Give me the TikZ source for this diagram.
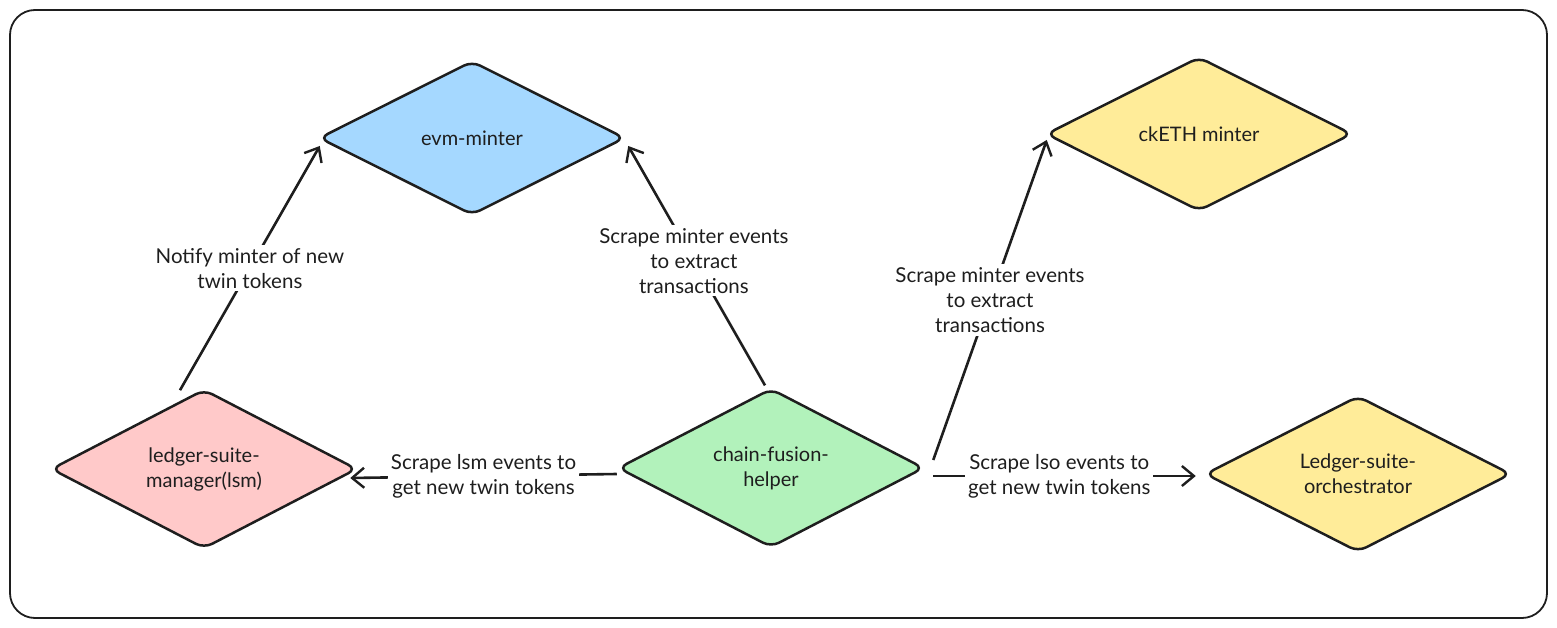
\documentclass[tikz,border=0pt]{standalone}
\usepackage{fontspec}
\setmainfont{Lato}
\usetikzlibrary{shapes.geometric,arrows.meta}
\definecolor{ink}{HTML}{1E1E1E}
\definecolor{cblue}{HTML}{A5D8FF}
\definecolor{cgreen}{HTML}{B2F2BB}
\definecolor{cpink}{HTML}{FFC9C9}
\definecolor{cyellow}{HTML}{FFEC99}
\tikzset{
  dnode/.style={diamond, draw=ink, line width=2.5pt, rounded corners=9pt,
    minimum width=306pt, minimum height=154pt, inner sep=0pt, align=center,
    font=\fontsize{20}{25}\selectfont, text=ink},
  conn/.style={draw=ink, line width=2.6pt,
    -{Straight Barb[length=12pt,width=20pt,line width=2.4pt]}},
  lbl/.style={fill=white, align=center, inner sep=3pt, text=ink,
    font=\fontsize{20.5}{25}\selectfont},
}
\begin{document}
\begin{tikzpicture}[x=1pt,y=-1pt]
\useasboundingbox (0,0) rectangle (1557,628);
\draw[ink, line width=1.8pt, rounded corners=25pt] (10,10) rectangle (1547,618);

\node[dnode, fill=cblue]   (evm)  at (472,138)  {evm-minter};
\node[dnode, fill=cyellow] (ck)   at (1199,134) {ckETH minter};
\node[dnode, fill=cpink]   (lsm)  at (204,469)  {ledger-suite-\\manager(lsm)};
\node[dnode, fill=cgreen]  (cfh)  at (771,468)  {chain-fusion-\\helper};
\node[dnode, fill=cyellow] (lso)  at (1358,474) {Ledger-suite-\\orchestrator};

\draw[conn] ([xshift=-24pt,yshift=-2pt]lsm.north) -- node[lbl, pos=0.5] {Notify minter of new\\twin tokens} ([xshift=2pt,yshift=-8pt]evm.west);
\draw[conn] ([xshift=-6pt,yshift=2pt]cfh.north) -- node[lbl, pos=0.52] {Scrape minter events\\to extract\\transactions} ([xshift=2pt,yshift=-8pt]evm.east);
\draw[conn] ([xshift=8pt,yshift=8pt]cfh.east) -- node[lbl, pos=0.5] {Scrape minter events\\to extract\\transactions} ([xshift=2pt,yshift=-6pt]ck.west);
\draw[conn] ([yshift=-6pt]cfh.west) -- node[lbl, pos=0.5] {Scrape lsm events to\\get new twin tokens} ([xshift=-8pt,yshift=-9pt]lsm.east);
\draw[conn] ([xshift=8pt,yshift=-8pt]cfh.east) -- node[lbl, pos=0.48] {Scrape lso events to\\get new twin tokens} ([xshift=-8pt,yshift=-2pt]lso.west);
\end{tikzpicture}
\end{document}
